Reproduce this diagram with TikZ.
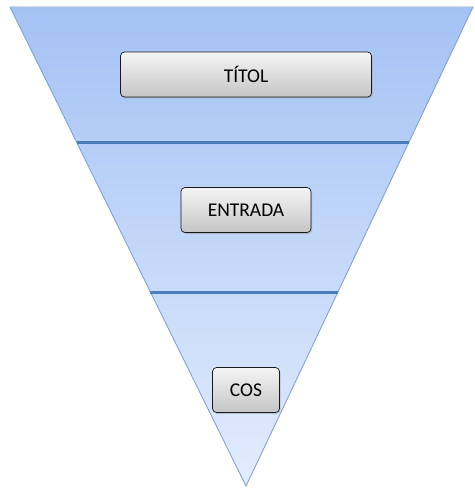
\documentclass[tikz,border=0pt]{standalone}
\usepackage{fontspec}
\setmainfont{Carlito}
\usetikzlibrary{calc,shadows}

\definecolor{funneltop}{HTML}{A4C2F4}
\definecolor{funnelbot}{HTML}{E2ECFD}
\definecolor{funnelrim}{HTML}{7FA3D9}
\definecolor{divider}{HTML}{4A7EBB}

\begin{document}
\begin{tikzpicture}[x=1pt, y=-1pt,
  section/.style={draw=black!90, rounded corners=4pt, line width=0.7pt,
    top color=gray!8, bottom color=gray!45,
    drop shadow={shadow xshift=1pt, shadow yshift=-1.5pt, opacity=0.35},
    minimum height=45pt, inner sep=0pt, font=\fontsize{19.5}{22}\selectfont}]

\useasboundingbox (0,0) rectangle (474,489);

% funnel
\coordinate (tl) at (10,7);
\coordinate (tr) at (473,7);
\coordinate (apex) at (246,486);
\fill [top color=funneltop, bottom color=funnelbot] (tl) -- (tr) -- (apex) -- cycle;
\draw [funnelrim, line width=0.8pt] (tl) -- (apex) -- (tr);

% dividers
\foreach \f [count=\i] in {0.282,0.595}
{
  \coordinate (div-\i-l) at ($(tl)!\f!(apex)$);
  \coordinate (div-\i-r) at ($(tr)!\f!(apex)$);
  \draw [divider, line width=3pt] (div-\i-l) -- (div-\i-r);
}

% sections
\foreach \l/\w/\y [count=\i] in {TÍTOL/251/74.5, ENTRADA/130/210, COS/67/390}
  \node [section, minimum width=\w pt] (sec-\i) at (246,\y) {\l};

\end{tikzpicture}
\end{document}
